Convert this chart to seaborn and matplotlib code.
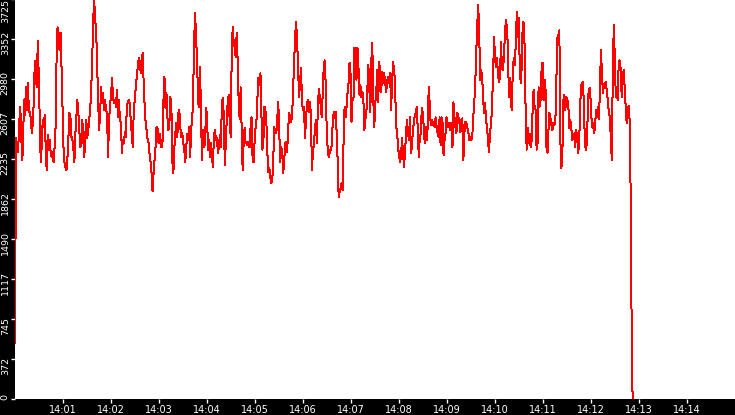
import pandas as pd
import matplotlib
matplotlib.use("Agg")
import matplotlib.pyplot as plt
from matplotlib.transforms import ScaledTranslation
import seaborn as sns

# ---------- DATA ----------
DAY = "2024-01-01"
SAMPLE_START = "14:00:00"
SAMPLE_END = "14:12:52"
VIEW_START = "14:00:00"
VIEW_END = "14:15:00"

# readings 14:00:00 - 14:03:50
vals_a = [
    520, 2430,
    2360, 2300, 2480, 2720, 2600, 2220, 2300, 2780, 2640, 2900,
    2690, 2940, 2690, 2660, 2610, 2470, 2570, 2780, 3150, 3000,
    2900, 3330, 3000, 2610, 2200, 2360, 2600, 2530, 2640, 2340,
    2130, 2460, 2320, 2410, 2300, 2250, 2300, 2200, 2340, 2530,
    3170, 3460, 3370, 3250, 3410, 3090, 2720, 2340, 2200, 2150,
    2130, 2250, 2440, 2660, 2620, 2440, 2410, 2320, 2200, 2470,
    2620, 2780, 2660, 2500, 2340, 2410, 2600, 2410, 2250, 2460,
    2600, 2430, 2500, 2610, 2690, 2890, 3150, 3530, 3710, 3530,
    3430, 3090, 2780, 2500, 2660, 2900, 2750, 2850, 2690, 2780,
    2690, 2660, 2250, 2570, 2750, 2810, 2990, 2810, 2750, 2780,
    2720, 2880, 2620, 2780, 2600, 2570, 2290, 2410, 2380, 2480,
    2440, 2720, 2760, 2780, 2750, 2570, 2470, 2340, 2690, 2780,
    2900, 3000, 3090, 3170, 3140, 3030, 3130, 3220, 2940, 2720,
    2570, 2500, 2410, 2380, 2270, 2200, 2100, 1930, 2100, 2220,
    2340, 2530, 2520, 2380, 2470, 2410, 2340, 2380, 2780, 3000,
    2710, 2850, 2620, 2500, 2570, 2810, 2720, 2200, 2100, 2340,
    2470, 2570, 2440, 2660, 2690, 2530, 2440, 2470, 2380, 2320,
    2200, 2340, 2470, 2410, 2530, 2250, 2530, 2570, 2850, 3340,
    3590, 3340, 3150, 2750, 2720, 3090, 2600,
]

# readings 14:03:50 - 14:06:58
vals_b = [
    2220, 2500, 2340, 2380, 2710, 2640, 2320, 2410, 2250, 2380,
    2250, 2160, 2460, 2500, 2410, 2430, 2290, 2340, 2460, 2340,
    2750, 2800, 2620, 2180, 2380, 2620, 2780, 2830, 2550, 2440,
    3250, 3460, 3310, 3270, 3180, 3410, 3130, 2750, 2600, 2900,
    2530, 2130, 2380, 2520, 2380, 2390, 2360, 2390, 2340, 2530,
    2620, 2250, 2200, 2380, 2520, 2600, 2810, 2990, 2920, 3030,
    2640, 2320, 2410, 2720, 2690, 2570, 2290, 2110, 2150, 2060,
    2010, 2040, 2250, 2530, 2480, 2470, 2620, 2760, 2470, 2200,
    2340, 2290, 2100, 2220, 2380, 2390, 2300, 2520, 2660, 2610,
    2580, 2640, 2890, 3130, 3370, 3510, 3340, 3090, 2810, 2940,
    3080, 2750, 2690, 2720, 2430, 2600, 2750, 2780, 2670, 2760,
    2640, 2130, 2290, 2380, 2500, 2600, 2380, 2720, 2880, 2810,
    2720, 2620, 2880, 3110, 3150, 2900, 2470, 2320, 2250, 2300,
    2320, 2360, 2570, 2670, 2610, 2670, 2470, 2220, 1880, 1930,
    1960, 2010, 1940, 2410, 2720, 2620, 2720, 2850, 2940, 3130,
    3030,
]

# readings 14:06:58 - 14:10:05
vals_c = [
    2580, 2780, 2800, 3270, 3130, 2970, 3270, 3090, 2830, 2920,
    2810, 2860, 2780, 2500, 2600, 2660, 2890, 3110, 2900, 2670,
    3150, 3310, 2780, 2530, 2750, 2860, 3060, 2760, 3140, 3000,
    2860, 3040, 2940, 3030, 2950, 2860, 2950, 3000, 2940, 3030,
    2690, 2950, 3140, 3060, 2940, 2530, 2500, 2340, 2270, 2200,
    2250, 2430, 2290, 2160, 2290, 2440, 2600, 2480, 2410, 2620,
    2290, 2340, 2500, 2570, 2640, 2660, 2720, 2480, 2250, 2440,
    2470, 2710, 2660, 2530, 2380, 2530, 2410, 2530, 2900, 2750,
    2550, 2600, 2550, 2580, 2530, 2620, 2530, 2470, 2440, 2620,
    2360, 2620, 2570, 2270, 2410, 2470, 2620, 2530, 2570, 2530,
    2500, 2570, 2340, 2760, 2620, 2530, 2470, 2660, 2570, 2610,
    2480, 2530, 2610, 2220, 2470, 2580, 2570, 2530, 2480, 2410,
    2440, 2410, 2440, 2620, 2750, 2940, 3220, 3480, 3670, 3410,
    2970, 3060, 3000, 2780, 2660, 2750, 2580, 2530, 2380, 2300,
    2500, 2530, 2750, 3000, 3370, 3170, 3090, 3170, 3020, 2950,
]

# readings 14:10:05 - 14:12:52
vals_d = [
    3000, 3320, 3080, 3060, 3180, 3410, 3530, 3450, 3270, 2810,
    2990, 2750, 2690, 3090, 3170, 3110, 3310, 3600, 3370, 3550,
    3080, 2940, 3090, 3510, 3500, 3250, 2620, 2320, 2520, 2380,
    2470, 2340, 2410, 2690, 2880, 2710, 2690, 2320, 2380, 2900,
    2720, 2780, 3060, 3130, 2780, 2970, 2880, 2340, 2290, 2500,
    2660, 2610, 2550, 2500, 2570, 2550, 2600, 2970, 3360, 3390,
    3430, 2410, 2150, 2250, 2780, 2830, 2690, 2810, 2780, 2750,
    2520, 2600, 2530, 2410, 2440, 2470, 2340, 2500, 2440, 2290,
    2380, 2720, 2920, 2940, 2950, 2620, 2360, 2320, 2410, 2810,
    2880, 2890, 2690, 2530, 2570, 2470, 2530, 2690, 2620, 2720,
    2600, 2880, 3250, 3030, 2850, 2920, 2940, 2950, 2850, 2780,
    2660, 2620, 2410, 2220, 3060, 3480, 3180, 2810, 2850, 2780,
    3140, 3150, 3060, 2810, 2970, 3060, 2900, 2720, 2570, 2670,
    2730, 2590, 1930, 700, 0,
]

Y_TICKS = [0, 372.5, 745, 1117.5, 1490, 1862.5, 2235, 2607.5, 2980, 3352.5, 3725]
Y_LABELS = ["0", "372", "745", "1117", "1490", "1862", "2235", "2607", "2980", "3352", "3725"]
X_LABELS = ["14:01", "14:02", "14:03", "14:04", "14:05", "14:06", "14:07",
            "14:08", "14:09", "14:10", "14:11", "14:12", "14:13", "14:14"]
# ---------------------------

values = vals_a + vals_b + vals_c + vals_d
times = pd.date_range(f"{DAY} {SAMPLE_START}", f"{DAY} {SAMPLE_END}", periods=len(values))
df = pd.DataFrame({"time": times, "value": values})

fig = plt.figure(figsize=(7.35, 4.15), dpi=100, facecolor="black")
ax = fig.add_axes([15 / 735, 16.3 / 415, 720 / 735, 400 / 415])
ax.set_facecolor("white")

sns.lineplot(data=df, x="time", y="value", color="red", linewidth=0.72,
             estimator=None, sort=False, ax=ax)
for line in ax.lines:
    line.set_antialiased(False)

ax.set_xlim(pd.Timestamp(f"{DAY} {VIEW_START}"), pd.Timestamp(f"{DAY} {VIEW_END}"))
ax.set_ylim(0, 3725)
for s in ax.spines.values():
    s.set_visible(False)
ax.set_xlabel("")
ax.set_ylabel("")

# x axis: minute ticks
ax.set_xticks([pd.Timestamp(f"{DAY} {t}") for t in X_LABELS])
ax.set_xticklabels(X_LABELS)
ax.tick_params(axis="x", colors="white", length=3, width=1, pad=1.5, labelsize=7)

# y axis: rotated labels, hanging below their tick
ax.set_yticks(Y_TICKS)
ax.set_yticklabels(Y_LABELS, rotation=90, rotation_mode="anchor", ha="left", va="center")
ax.tick_params(axis="y", colors="white", length=3, width=1, pad=4, labelsize=6.8)
shift = [1.5] + [16] * 9 + [24]
for lab, dy in zip(ax.get_yticklabels(), shift):
    lab.set_transform(lab.get_transform() + ScaledTranslation(0, -dy / 100, fig.dpi_scale_trans))

fig.savefig("out.png", dpi=100, facecolor="black")
